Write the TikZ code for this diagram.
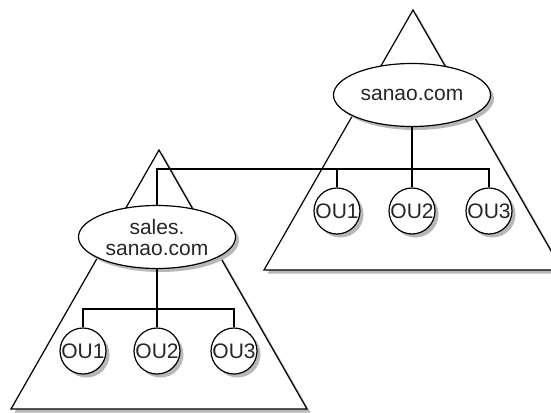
\documentclass[tikz,border=0pt]{standalone}
\usepackage{fontspec}
\setmainfont{Liberation Sans}
\usetikzlibrary{shapes.geometric,shadows}
\begin{document}
\begin{tikzpicture}[x=1pt,y=-1pt,
  shad/.style={drop shadow={shadow xshift=3.5pt,shadow yshift=-3.5pt,fill=black!28,opacity=1}},
  ln/.style={line width=1.2pt,black},
  dom/.style={ellipse,draw,ln,fill=white,shad,minimum width=157pt,minimum height=63pt,inner sep=0pt,
    font=\fontsize{21pt}{21pt}\selectfont,align=center,text=black!85},
  ou/.style={circle,draw,ln,fill=white,shad,minimum size=46pt,inner sep=0pt,
    font=\fontsize{21pt}{21pt}\selectfont,text=black!85}]
\useasboundingbox (0,0) rectangle (551,412);
% triangles
\begin{scope}
\clip (0,0) rectangle (551,412);
\filldraw[ln,fill=white,shad,line join=miter] (413,10) -- (562,270) -- (264,270) -- cycle;
\filldraw[ln,fill=white,shad,line join=miter] (159,150) -- (307,409) -- (11,409) -- cycle;
\end{scope}
% nodes
\node[dom] (sanao) at (412,95) {sanao.com};
\node[ou] (rou1) at (337,211) {OU1};
\node[ou] (rou2) at (412,211) {OU2};
\node[ou] (rou3) at (489,211) {OU3};
\node[dom] (sales) at (157,237) {sales.\\sanao.com};
\node[ou] (lou1) at (83,351) {OU1};
\node[ou] (lou2) at (157,351) {OU2};
\node[ou] (lou3) at (234,351) {OU3};
\coordinate (rbar) at (0,169);
\coordinate (lbar) at (0,309);
% connectors
\draw[ln] (sanao) -- (rou2);
\draw[ln] (sales.north) |- (rbar -| rou3) -- (rou3.north);
\draw[ln] (rou1.north) -- (rou1 |- rbar);
\draw[ln] (sales) -- (lou2);
\draw[ln] (lou1.north) |- (lbar -| lou3) -- (lou3.north);
\end{tikzpicture}
\end{document}
